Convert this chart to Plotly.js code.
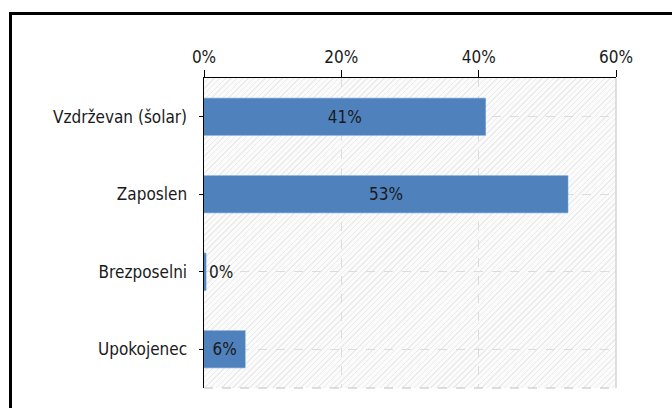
<!DOCTYPE html>
<html>
<head>
<meta charset="utf-8">
<script src="https://cdn.plot.ly/plotly-3.0.1.min.js"></script>
<style>
  html, body { margin: 0; padding: 0; background: #ffffff; }
  #wrap { position: relative; width: 672px; height: 408px; overflow: hidden; }
  #frame { position: absolute; left: 9px; top: 12px; width: 700px; height: 450px;
           border-left: 3px solid #000; border-top: 3px solid #000; box-sizing: border-box; }
  #hatch { position: absolute; left: 204px; top: 78px; width: 412px; height: 310px;
           background: repeating-linear-gradient(135deg, #fbfbfb 0px, #fbfbfb 3px, #ebebeb 3px, #ebebeb 4px); }
  #chart { position: absolute; left: 0; top: 0; width: 672px; height: 408px; }
</style>
</head>
<body>
<div id="wrap">
  <div id="frame"></div>
  <div id="hatch"></div>
  <div id="chart"></div>
</div>
<script>
const categories = ["Vzdrževan (šolar)", "Zaposlen", "Brezposelni", "Upokojenec"];
const shares = [0.41, 0.53, 0.003, 0.06];
const tickValues = [0, 0.2, 0.4, 0.6];
const tickLabels = ["0%", "20%", "40%", "60%"];

const FONT = "DejaVu Sans Condensed, DejaVu Sans, sans-serif";
const FS = 17;

const trace = {
  type: "bar",
  orientation: "h",
  y: categories,
  x: shares,
  width: 0.48,
  marker: { color: "#4f81bd", line: { color: "#5b8fd0", width: 0.5 } },
  texttemplate: "%{x:.0%}",
  textposition: "auto",
  insidetextanchor: "middle",
  textangle: 0,
  insidetextfont: { family: FONT, size: FS, color: "#1a1a1a" },
  outsidetextfont: { family: FONT, size: FS, color: "#1a1a1a" },
  cliponaxis: false,
  hoverinfo: "skip"
};

const layout = {
  width: 672,
  height: 408,
  margin: { l: 204, r: 56, t: 78, b: 20, pad: 0 },
  paper_bgcolor: "rgba(0,0,0,0)",
  plot_bgcolor: "rgba(0,0,0,0)",
  showlegend: false,
  font: { family: FONT, size: FS, color: "#1a1a1a" },
  xaxis: {
    side: "top",
    range: [0, 0.6],
    tickvals: tickValues,
    ticktext: tickLabels,
    ticks: "outside",
    ticklen: 7,
    tickcolor: "#000",
    tickwidth: 1,
    showline: true,
    linecolor: "#000",
    linewidth: 1.5,
    showgrid: true,
    gridcolor: "#dcdcdc",
    griddash: "dash",
    zeroline: false,
    tickfont: { family: FONT, size: FS, color: "#1a1a1a" },
    ticklabelstandoff: 0,
    fixedrange: true
  },
  yaxis: {
    autorange: "reversed",
    ticks: "outside",
    ticklen: 4,
    tickcolor: "#000",
    showline: true,
    linecolor: "#000",
    linewidth: 1.5,
    showgrid: true,
    gridcolor: "#dcdcdc",
    griddash: "dash",
    zeroline: false,
    tickfont: { family: FONT, size: FS, color: "#1a1a1a" },
    ticklabelstandoff: 8,
    fixedrange: true
  },
  shapes: [
    { type: "line", xref: "paper", yref: "paper", x0: 1, x1: 1, y0: 0, y1: 1,
      line: { color: "#d4d4d4", width: 1.5 }, layer: "below" },
    { type: "line", xref: "paper", yref: "paper", x0: 0, x1: 1, y0: 0, y1: 0,
      line: { color: "#d4d4d4", width: 1.5, dash: "dash" }, layer: "below" }
  ]
};

Plotly.newPlot("chart", [trace], layout, { displayModeBar: false, staticPlot: true });
</script>
</body>
</html>
